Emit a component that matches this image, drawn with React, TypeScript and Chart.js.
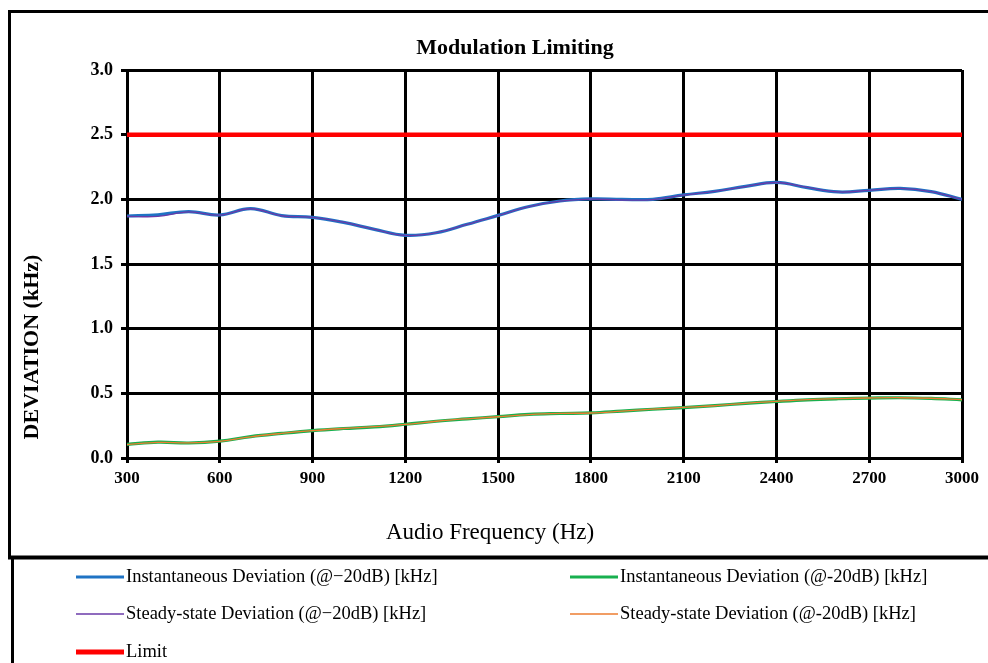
import React, { useEffect, useRef } from "react";
import { Chart, registerables } from "chart.js";

Chart.register(...registerables);

// Audio test frequencies (Hz)
const frequencies = [
  300, 400, 500, 600, 700, 800, 900, 1000, 1100, 1200, 1300, 1400, 1500, 1600,
  1700, 1800, 1900, 2000, 2100, 2200, 2300, 2400, 2500, 2600, 2700, 2800, 2900, 3000,
];

// Instantaneous deviation, high-level input (kHz)
const instantHigh = [
  1.871, 1.881, 1.905, 1.879, 1.928, 1.874, 1.861, 1.822, 1.768, 1.722, 1.742, 1.807, 1.876, 1.945,
  1.987, 2.003, 2.0, 2.0, 2.034, 2.062, 2.1, 2.131, 2.09, 2.057, 2.07, 2.085, 2.06, 2.0,
];

// Instantaneous deviation, -20 dB input (kHz)
const instantLow = [
  0.105, 0.122, 0.116, 0.13, 0.165, 0.19, 0.212, 0.228, 0.241, 0.261, 0.284, 0.302, 0.32, 0.337,
  0.344, 0.349, 0.363, 0.377, 0.39, 0.405, 0.422, 0.437, 0.45, 0.458, 0.463, 0.466, 0.461, 0.45,
];

// Steady-state deviation, high-level input (kHz)
const steadyHigh = [
  1.869, 1.868, 1.903, 1.878, 1.927, 1.873, 1.861, 1.823, 1.768, 1.721, 1.742, 1.806, 1.875, 1.944,
  1.986, 2.002, 1.995, 1.998, 2.033, 2.061, 2.099, 2.13, 2.092, 2.057, 2.069, 2.084, 2.06, 2.0,
];

// Steady-state deviation, -20 dB input (kHz)
const steadyLow = [
  0.104, 0.121, 0.117, 0.129, 0.164, 0.19, 0.211, 0.228, 0.242, 0.26, 0.284, 0.303, 0.319, 0.336,
  0.345, 0.348, 0.362, 0.378, 0.391, 0.404, 0.423, 0.438, 0.451, 0.459, 0.464, 0.466, 0.462, 0.451,
];

// Deviation limit (kHz) across the band
const limitFreqs = [300, 3000];
const limitValues = [2.5, 2.5];

const yTicks = [0, 0.5, 1.0, 1.5, 2.0, 2.5, 3.0];

const SERIF = "'Liberation Serif', 'Times New Roman', serif";

type LegendSlot = { col: number; row: number };
const legendSlots: LegendSlot[] = [
  { col: 0, row: 0 },
  { col: 1, row: 0 },
  { col: 0, row: 1 },
  { col: 1, row: 1 },
  { col: 0, row: 2 },
];

const toPoints = (xs: number[], ys: number[]) => xs.map((x, i) => ({ x, y: ys[i] }));

const framePlugin = {
  id: "frame",
  beforeDraw(chart: any) {
    const { ctx, width, height } = chart;
    ctx.save();
    ctx.fillStyle = "#ffffff";
    ctx.fillRect(0, 0, width, height);
    ctx.restore();
  },
  afterDraw(chart: any) {
    const { ctx } = chart;
    ctx.save();
    ctx.strokeStyle = "#000";

    // outer frame of the plot panel
    ctx.lineWidth = 3;
    ctx.beginPath();
    ctx.moveTo(8, 11.5);
    ctx.lineTo(988, 11.5);
    ctx.moveTo(9.5, 10);
    ctx.lineTo(9.5, 558);
    ctx.stroke();

    // legend panel
    ctx.lineWidth = 4;
    ctx.beginPath();
    ctx.moveTo(8, 557.5);
    ctx.lineTo(988, 557.5);
    ctx.stroke();
    ctx.lineWidth = 3;
    ctx.beginPath();
    ctx.moveTo(12.5, 556);
    ctx.lineTo(12.5, 663);
    ctx.stroke();

    ctx.fillStyle = "#000";
    ctx.textBaseline = "middle";
    ctx.textAlign = "center";

    // chart title
    ctx.font = `bold 22px ${SERIF}`;
    ctx.fillText("Modulation Limiting", 515, 48);

    // x axis title
    ctx.font = `23px ${SERIF}`;
    ctx.fillText("Audio Frequency (Hz)", 490, 533);

    // y axis title
    ctx.save();
    ctx.translate(32, 347);
    ctx.rotate(-Math.PI / 2);
    ctx.font = `bold 22px ${SERIF}`;
    ctx.fillText("DEVIATION (kHz)", 0, 0);
    ctx.restore();

    // legend
    const colLineX = [76, 570];
    const lineLen = 48;
    const rowY = [577, 614, 652];
    ctx.font = `18.5px ${SERIF}`;
    ctx.textAlign = "left";
    chart.data.datasets.forEach((ds: any, i: number) => {
      const slot = legendSlots[i];
      const x0 = colLineX[slot.col];
      const y = rowY[slot.row];
      ctx.strokeStyle = ds.borderColor;
      ctx.lineWidth = ds.legendWidth;
      ctx.beginPath();
      ctx.moveTo(x0, y);
      ctx.lineTo(x0 + lineLen, y);
      ctx.stroke();
      ctx.fillStyle = "#000";
      ctx.fillText(ds.label, x0 + lineLen + 2, y);
    });

    ctx.restore();
  },
};

export default function App() {
  const canvasRef = useRef<HTMLCanvasElement | null>(null);

  useEffect(() => {
    const canvas = canvasRef.current;
    if (!canvas) return;

    const chart = new Chart(canvas, {
      type: "line",
      data: {
        datasets: [
          {
            label: "Instantaneous Deviation (@\u221220dB) [kHz]",
            data: toPoints(frequencies, instantHigh),
            borderColor: "#1f73c4",
            borderWidth: 3.2,
            legendWidth: 3,
            order: 2,
          } as any,
          {
            label: "Instantaneous Deviation (@-20dB) [kHz]",
            data: toPoints(frequencies, instantLow),
            borderColor: "#18b04f",
            borderWidth: 3.2,
            legendWidth: 3,
            order: 3,
          } as any,
          {
            label: "Steady-state Deviation (@\u221220dB) [kHz]",
            data: toPoints(frequencies, steadyHigh),
            borderColor: "#6a3aa8",
            borderWidth: 1.3,
            legendWidth: 1.5,
            order: 0,
          } as any,
          {
            label: "Steady-state Deviation (@-20dB) [kHz]",
            data: toPoints(frequencies, steadyLow),
            borderColor: "#ed7d31",
            borderWidth: 1.3,
            legendWidth: 1.5,
            order: 1,
          } as any,
          {
            label: "Limit",
            data: toPoints(limitFreqs, limitValues),
            borderColor: "#ff0000",
            borderWidth: 4.5,
            legendWidth: 5,
            tension: 0,
            order: 4,
          } as any,
        ],
      },
      options: {
        responsive: false,
        animation: false,
        devicePixelRatio: 1,
        layout: { padding: { left: 67, right: 26, top: 70, bottom: 165 } },
        elements: {
          point: { radius: 0, hoverRadius: 0 },
          line: { tension: 0.4, fill: false, borderCapStyle: "butt" },
        },
        plugins: {
          legend: { display: false },
          title: { display: false },
          tooltip: { enabled: false },
        },
        scales: {
          x: {
            type: "linear",
            min: 300,
            max: 3000,
            afterFit: (s: any) => {
              s.height = 40;
            },
            ticks: {
              stepSize: 300,
              autoSkip: false,
              maxRotation: 0,
              padding: 5,
              color: "#000",
              font: { family: SERIF, size: 17, weight: "bold" },
              callback: (v: any) => String(v),
            },
            grid: { color: "#000", lineWidth: 3, tickLength: 5, drawTicks: true },
            border: { color: "#000", width: 3 },
          },
          y: {
            type: "linear",
            min: yTicks[0],
            max: yTicks[yTicks.length - 1],
            afterFit: (s: any) => {
              s.width = 60;
            },
            afterBuildTicks: (s: any) => {
              s.ticks = yTicks.map((value) => ({ value }));
            },
            ticks: {
              padding: 8,
              color: "#000",
              font: { family: SERIF, size: 18, weight: "bold" },
              callback: (v: any) => Number(v).toFixed(1),
            },
            grid: { color: "#000", lineWidth: 3, tickLength: 6, drawTicks: true },
            border: { color: "#000", width: 3 },
          },
        },
      } as any,
      plugins: [framePlugin],
    });

    return () => {
      chart.destroy();
    };
  }, []);

  return (
    <div
      style={{
        position: "absolute",
        left: 0,
        top: 0,
        width: 988,
        height: 663,
        background: "#fff",
      }}
    >
      <canvas ref={canvasRef} width={988} height={663} style={{ display: "block" }} />
    </div>
  );
}
